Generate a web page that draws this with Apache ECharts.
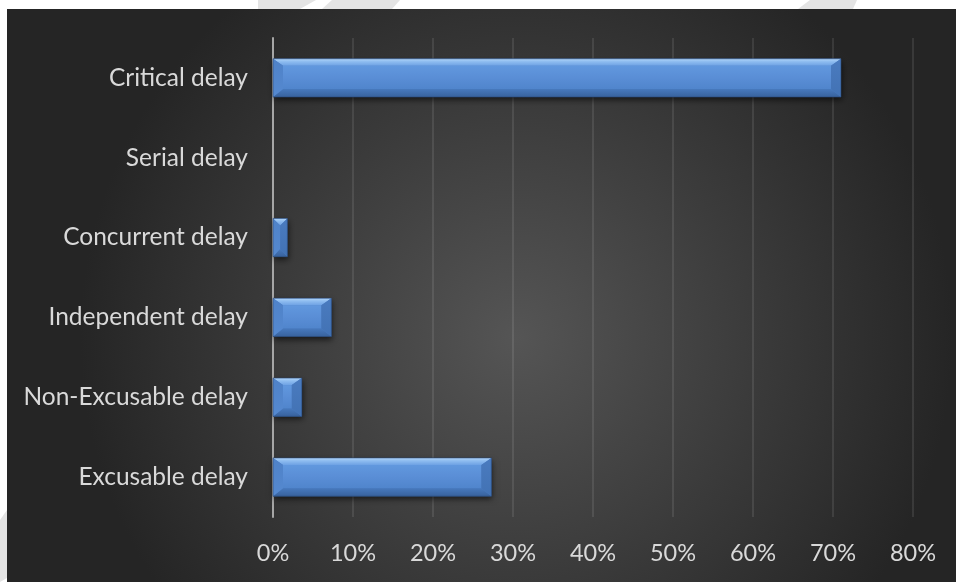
<!DOCTYPE html>
<html>
<head>
<meta charset="utf-8">
<script src="https://cdn.jsdelivr.net/npm/echarts@6/dist/echarts.min.js"></script>
<style>
html,body{margin:0;padding:0;background:#fff;}
#c{width:956px;height:582px;}
</style>
</head>
<body>
<div id="c"></div>
<script>
var categories = ['Excusable delay','Non-Excusable delay','Independent delay','Concurrent delay','Serial delay','Critical delay'];
var values = [27.3, 3.6, 7.3, 1.8, 0, 71.0];
var tickMin = 0, tickMax = 80, tickStep = 10;

var chart = echarts.init(document.getElementById('c'));
var font = 'Lato, "Open Sans", sans-serif';

function lg(stops) {
  return {type: 'linear', x: 0, y: 0, x2: 0, y2: 1, colorStops: stops.map(function (s) { return {offset: s[0], color: s[1]}; })};
}

function renderBar(params, api) {
  var idx = api.value(0), val = api.value(1);
  var p0 = api.coord([0, idx]);
  var p1 = api.coord([val, idx]);
  var h = api.size([0, 1])[1] * 0.48;
  var x0 = p0[0], x1 = p1[0];
  var w = x1 - x0;
  if (w < 0.5) return null;
  var y0 = p0[1] - h / 2, y1 = p0[1] + h / 2;
  var bx = Math.min(10, w / 2), byT = 7, byB = 8;
  return {
    type: 'group',
    children: [
      {type: 'rect', shape: {x: x0, y: y0, width: w, height: h},
        style: {fill: '#4a7cc2', shadowColor: 'rgba(0,0,0,0.6)', shadowBlur: 6, shadowOffsetX: 1, shadowOffsetY: 3}},
      {type: 'rect', shape: {x: x0 + bx, y: y0 + byT, width: Math.max(0, w - 2 * bx), height: h - byT - byB},
        style: {fill: lg([[0, '#6198de'], [0.5, '#5a8ed6'], [1, '#5085cc']])}},
      {type: 'polygon', shape: {points: [[x0, y0], [x1, y0], [x1 - bx, y0 + byT], [x0 + bx, y0 + byT]]},
        style: {fill: lg([[0, '#b2d6fa'], [0.4, '#8fbdf0'], [1, '#6ea2e4']])}},
      {type: 'polygon', shape: {points: [[x0, y1], [x1, y1], [x1 - bx, y1 - byB], [x0 + bx, y1 - byB]]},
        style: {fill: lg([[0, '#4779bd'], [1, '#38629d']])}},
      {type: 'polygon', shape: {points: [[x0, y0], [x0 + bx, y0 + byT], [x0 + bx, y1 - byB], [x0, y1]]},
        style: {fill: lg([[0, '#4f82c8'], [1, '#5589d0']])}},
      {type: 'polygon', shape: {points: [[x1, y0], [x1 - bx, y0 + byT], [x1 - bx, y1 - byB], [x1, y1]]},
        style: {fill: lg([[0, '#4a7bbf'], [1, '#4272b4']])}},
      {type: 'rect', shape: {x: x0, y: y0, width: w, height: h},
        style: {fill: 'none', stroke: 'rgba(40,70,115,0.6)', lineWidth: 1}}
    ]
  };
}

chart.setOption({
  backgroundColor: {
    type: 'radial', x: 0.54, y: 0.58, r: 0.75,
    colorStops: [{offset: 0, color: '#555555'}, {offset: 1, color: '#252525'}]
  },
  grid: {left: 273, right: 43, top: 38, bottom: 65},
  xAxis: {
    type: 'value', min: tickMin, max: tickMax, interval: tickStep,
    axisLine: {show: false}, axisTick: {show: false},
    axisLabel: {formatter: '{value}%', color: '#d9d9d9', fontSize: 23.5, fontFamily: font, margin: 24},
    splitLine: {lineStyle: {color: 'rgba(255,255,255,0.13)', width: 1.5}}
  },
  yAxis: {
    type: 'category', data: categories,
    axisLine: {lineStyle: {color: '#a6a6a6', width: 2}},
    axisTick: {show: false},
    axisLabel: {color: '#d9d9d9', fontSize: 24.5, fontFamily: font, margin: 25}
  },
  series: [{
    type: 'custom',
    renderItem: renderBar,
    encode: {x: 1, y: 0},
    data: values.map(function (v, i) { return [i, v]; }),
    z: 3
  }],
  graphic: [
    {type: 'rect', shape: {x: 0, y: 0, width: 956, height: 9}, style: {fill: '#ffffff'}, z: 100},
    {type: 'rect', shape: {x: 0, y: 0, width: 7, height: 582}, style: {fill: '#ffffff'}, z: 100},
    {type: 'polygon', shape: {points: [[258,0],[316,0],[300,9],[258,9]]}, style: {fill: '#e4e4e4'}, z: 101},
    {type: 'polygon', shape: {points: [[332,0],[400,0],[392,9],[322,9]]}, style: {fill: '#e4e4e4'}, z: 101},
    {type: 'polygon', shape: {points: [[810,0],[857,0],[853,9],[798,9]]}, style: {fill: '#e4e4e4'}, z: 101},
    {type: 'polygon', shape: {points: [[0,520],[7,510],[7,578],[0,582]]}, style: {fill: '#e4e4e4'}, z: 101}
  ]
});
</script>
</body>
</html>
